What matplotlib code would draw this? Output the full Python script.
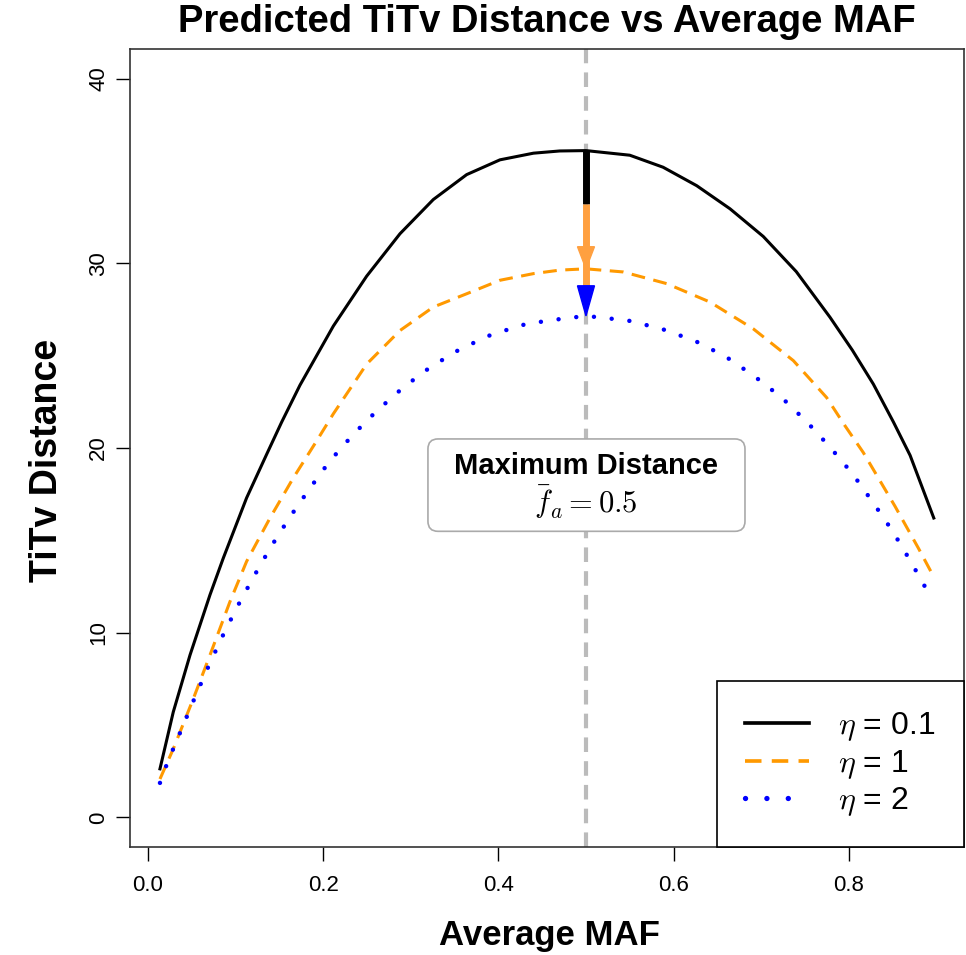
import numpy as np
import matplotlib
matplotlib.use("Agg")
import matplotlib.pyplot as plt
from matplotlib.patches import FancyBboxPatch, Polygon

plt.rcParams['font.family'] = ['Liberation Sans', 'DejaVu Sans']
plt.rcParams['mathtext.fontset'] = 'cm'

# values: average MAF and predicted TiTv distance per eta
maf_eta01 = [0.0137, 0.0289, 0.048, 0.0708, 0.086, 0.1126, 0.1355, 0.1526, 0.1735,
             0.2116, 0.2496, 0.2877, 0.3257, 0.3638, 0.4018, 0.44, 0.47, 0.5, 0.55,
             0.588, 0.6264, 0.6644, 0.7024, 0.74, 0.7785, 0.804, 0.828, 0.851, 0.87, 0.897]
dist_eta01 = [2.63, 5.71, 8.79, 12.05, 14.04, 17.3, 19.66, 21.4, 23.4,
              26.6, 29.3, 31.6, 33.45, 34.8, 35.6, 35.96, 36.08, 36.1, 35.85,
              35.2, 34.2, 32.95, 31.45, 29.55, 27.08, 25.3, 23.46, 21.4, 19.6, 16.21]

maf_eta1 = [0.0137, 0.0289, 0.0518, 0.0708, 0.0936, 0.1126, 0.1393, 0.1659, 0.1925,
            0.2116, 0.2496, 0.2877, 0.3257, 0.3638, 0.4018, 0.44, 0.47, 0.5, 0.5426,
            0.592, 0.6416, 0.691, 0.7367, 0.7747, 0.7957, 0.8166, 0.8527, 0.8794, 0.895]
dist_eta1 = [2.08, 3.71, 6.43, 8.79, 11.68, 13.86, 16.21, 18.38, 20.38,
             21.85, 24.54, 26.36, 27.63, 28.35, 29.08, 29.44, 29.63, 29.7, 29.53,
             28.9, 27.9, 26.45, 24.73, 22.73, 21.2, 19.75, 16.85, 14.58, 13.2]

maf_eta2 = [0.0137, 0.0205, 0.028, 0.0358, 0.051, 0.0669, 0.0833, 0.1012, 0.1202,
            0.14, 0.1613, 0.1838, 0.207, 0.2344, 0.261, 0.2915, 0.3219, 0.3562,
            0.3922, 0.4322, 0.4703, 0.5, 0.548, 0.5864, 0.6244, 0.6594, 0.6918,
            0.7234, 0.752, 0.7785, 0.8043, 0.8272, 0.8497, 0.870, 0.8897]
dist_eta2 = [1.87, 2.75, 3.62, 4.49, 6.21, 7.95, 9.64, 11.34, 12.99,
             14.62, 16.21, 17.75, 19.26, 20.74, 22.0, 23.28, 24.36, 25.35,
             26.14, 26.72, 26.98, 27.15, 26.9, 26.45, 25.8, 24.95, 23.9,
             22.73, 21.42, 20.05, 18.6, 17.08, 15.52, 13.91, 12.26]

labels = [r'$\eta$ = 0.1', r'$\eta$ = 1', r'$\eta$ = 2']
x_ticks = [0.0, 0.2, 0.4, 0.6, 0.8]
y_ticks = [0, 10, 20, 30, 40]
f_max = 0.5

orange = '#FF9900'
arrow_orange = '#FFA040'
blue = '#0000FF'

fig = plt.figure(figsize=(9.66, 9.55), dpi=100)
ax = fig.add_axes([130/966, 108/955, 834/966, 798/955])

ax.set_xlim(-0.0205, 0.9315)
ax.set_ylim(-1.6, 41.6)

# vertical line at maximum
ax.axvline(f_max, color='#BBBBBB', lw=3, linestyle=(0, (3.5, 2.2)), zorder=1)

ax.plot(maf_eta01, dist_eta01, color='black', lw=2.2, label=labels[0], zorder=3)
ax.plot(maf_eta1, dist_eta1, color=orange, lw=2.2, linestyle=(0, (4.5, 2.8)),
        label=labels[1], zorder=3)
ax.plot(maf_eta2, dist_eta2, color=blue, lw=3.2, linestyle=(0, (0.01, 4.0)),
        dash_capstyle='round', label=labels[2], zorder=3)

# arrows showing drop of the peak
p0 = max(dist_eta01)
p1 = max(dist_eta1)
p2 = max(dist_eta2)
px_y = 18.4   # pixels per y unit
px_x = 876.0  # pixels per x unit
ax.plot([f_max, f_max], [p0, p0 - 2.9], color='black', lw=5, solid_capstyle='butt', zorder=4)
ax.plot([f_max, f_max], [p0 - 2.9, p1 - 0.85], color=arrow_orange, lw=5,
        solid_capstyle='butt', zorder=4)
ax.plot([f_max, f_max], [p1 - 0.85, p2 + 1.0], color=blue, lw=5,
        solid_capstyle='butt', zorder=4)
hw = 8.5 / px_x
ax.add_patch(Polygon([[f_max - hw, p1 + 22 / px_y], [f_max + hw, p1 + 22 / px_y], [f_max, p1]],
                     closed=True, color=arrow_orange, zorder=5))
ax.add_patch(Polygon([[f_max - hw, p2 + 30 / px_y], [f_max + hw, p2 + 30 / px_y], [f_max, p2]],
                     closed=True, color=blue, zorder=5))

# annotation box
bx0, bx1 = 0.3196, 0.6815
by0, by1 = 15.49, 20.49
r = 10 / px_x
box = FancyBboxPatch((bx0, by0), bx1 - bx0, by1 - by0,
                     boxstyle=f"round,pad=0,rounding_size={r}",
                     mutation_aspect=px_x / px_y,
                     facecolor='white', edgecolor='#AAAAAA', lw=1.2, zorder=6)
ax.add_patch(box)
ax.text(f_max, 19.05, 'Maximum Distance', ha='center', va='center',
        fontsize=21, fontweight='bold', zorder=7)
ax.text(f_max, 17.1, r'$\bar{f}_a = 0.5$', ha='center', va='center',
        fontsize=22, zorder=7)

ax.set_xticks(x_ticks)
ax.set_xticklabels([f'{t:.1f}' for t in x_ticks])
ax.set_yticks(y_ticks)
ax.set_yticklabels([str(t) for t in y_ticks], rotation=90, va='center')
ax.tick_params(axis='both', length=10, width=1, labelsize=16)
ax.tick_params(axis='x', pad=10)
ax.tick_params(axis='y', pad=5)
for s in ax.spines.values():
    s.set_linewidth(1.2)
    s.set_color('#333333')

leg = ax.legend(loc='lower right', bbox_to_anchor=(1.0, 0.0), borderaxespad=0,
                fancybox=False, edgecolor='black', framealpha=1, fontsize=23,
                handlelength=2.0, handletextpad=0.9, labelspacing=0.15,
                borderpad=0.9)
leg.get_frame().set_linewidth(1.2)
for h in leg.get_lines():
    h.set_linewidth(h.get_linewidth() * 1.2)

fig.text(547/966, 1 - 22/955, 'Predicted TiTv Distance vs Average MAF',
         ha='center', va='center', fontsize=27.5, fontweight='bold')
fig.text(549/966, 1 - 935/955, 'Average MAF', ha='center', va='center',
         fontsize=25, fontweight='bold')
fig.text(47/966, 1 - 460/955, 'TiTv Distance', ha='center', va='center',
         rotation=90, fontsize=27, fontweight='bold')

fig.savefig('out.png', dpi=100)
